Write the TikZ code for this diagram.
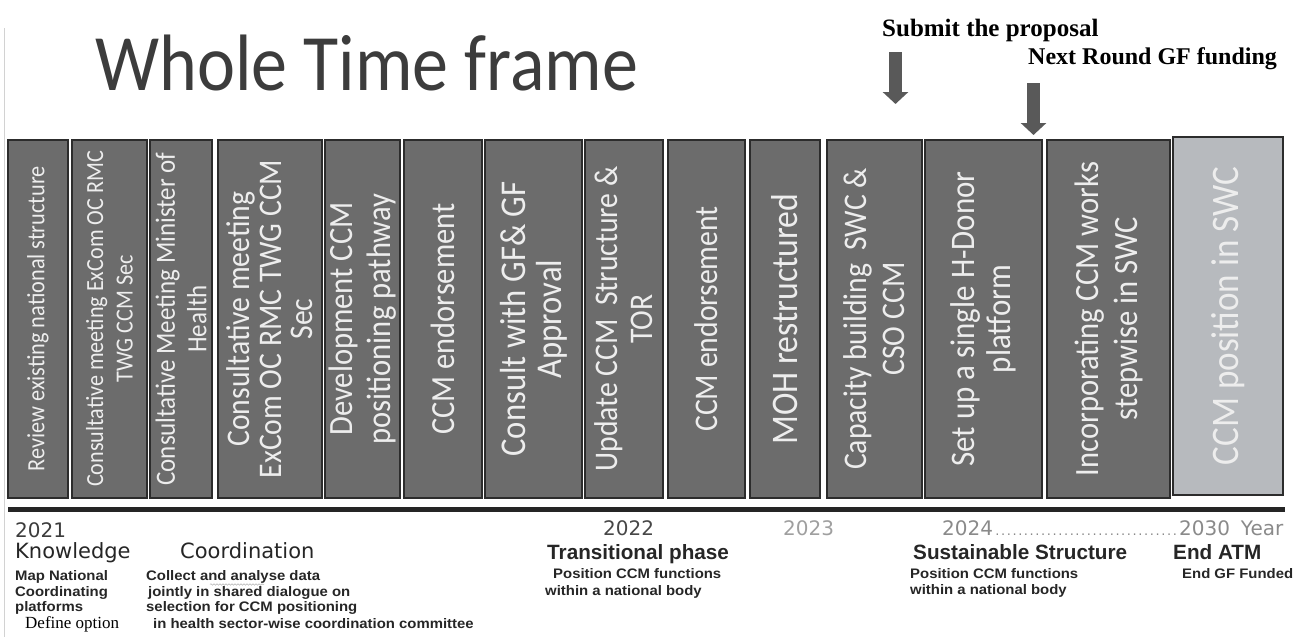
\documentclass[tikz,border=0pt]{standalone}
\usepackage{fontspec}
\setmainfont{Carlito}
\newfontfamily\stagefont{Carlito}[FakeStretch=0.9]
\newfontfamily\yearfont{DejaVu Sans}
\newfontfamily\notefont{Liberation Sans}[FakeStretch=1.08]
\newfontfamily\headfont{Liberation Sans}
\newfontfamily\oldserif{Liberation Serif}
\usetikzlibrary{arrows.meta}
\usetikzlibrary{decorations.pathmorphing}
\definecolor{stagegray}{HTML}{6C6C6C}
\definecolor{lastgray}{HTML}{B7BABE}
\definecolor{edgegray}{HTML}{2C2C2C}
\definecolor{inkgray}{HTML}{262626}
\definecolor{arrowgray}{HTML}{595959}
\definecolor{yeargray}{HTML}{8A8A8A}
\tikzset{stage/.style 2 args = {draw=edgegray, line width=1.2pt, fill=stagegray,
                                rotate=90, minimum width=358pt, inner sep=0pt,
                                align=center, text=white!93!black,
                                font=\stagefont\fontsize{#1}{#2}\selectfont}}
\tikzset{note/.style = {anchor=base west, inner sep=0, text=inkgray,
                        font=\notefont\bfseries\fontsize{13.8}{14}\selectfont}}
\tikzset{phase/.style = {anchor=base west, inner sep=0, text=inkgray,
                         font=\headfont\bfseries\fontsize{20.7}{22}\selectfont}}
\tikzset{year/.style = {anchor=base west, inner sep=0,
                        font=\yearfont\fontsize{20}{22}\selectfont}}
\tikzset{blockarrow/.style = {draw=arrowgray, line width=13pt,
                              -{Triangle[width=25pt,length=12pt]}}}

\begin{document}
\begin{tikzpicture}[x=1pt,y=-1pt]
  \useasboundingbox (0,0) rectangle (1293,637);
  \draw [gray!35, line width=0.8pt] (4,28) -- (4,637);

  \node [anchor=base west, inner sep=0, text=inkgray!90,
         font=\stagefont\fontsize{80}{88}\selectfont] (title) at (95,90) {Whole Time frame};

  % milestones on top
  \node [anchor=base west, inner sep=0, font=\oldserif\bfseries\fontsize{25}{27}\selectfont]
        (submit) at (882,36) {Submit the proposal};
  \node [anchor=base west, inner sep=0, font=\oldserif\bfseries\fontsize{24}{26}\selectfont]
        (round) at (1028,64) {Next Round GF funding};
  \coordinate (subtail) at (895.5,52);
  \coordinate (subtip) at (895.5,104);
  \coordinate (roundtail) at (1033.5,83);
  \coordinate (roundtip) at (1033.5,135);
  \draw [blockarrow] (subtail) -- (subtip);
  \draw [blockarrow] (roundtail) -- (roundtip);

  % the steps
  \node [stage={24.8}{29}, minimum height=60pt] (b1) at (38,319)
        {Review existing national structure};
  \node [stage={24.6}{29.5}, minimum height=75pt] (b2) at (109.5,319)
        {Consultative meeting ExCom OC RMC\\TWG CCM Sec};
  \node [stage={27.8}{31.5}, minimum height=62pt] (b3) at (181,319)
        {Consultative Meeting Minister of\\Health};
  \node [stage={33}{31.5}, minimum height=104pt] (b4) at (270,319)
        {Consultative meeting\\ExCom OC RMC TWG CCM\\Sec};
  \node [stage={34}{38}, minimum height=75pt] (b5) at (362.5,319)
        {Development CCM\\positioning pathway};
  \node [stage={33.8}{36}, minimum height=78pt] (b6) at (443,319)
        {CCM endorsement};
  \node [stage={36.3}{36}, minimum height=97pt] (b7) at (533.5,319)
        {Consult with GF\& GF\\Approval};
  \node [stage={33}{35}, minimum height=78pt] (b8) at (624,319)
        {Update CCM\ \ Structure \&\\TOR};
  \node [stage={33}{36}, minimum height=77pt] (b9) at (706.5,319)
        {CCM endorsement};
  \node [stage={37.5}{36}, minimum height=70pt] (b10) at (785,319)
        {MOH restructured};
  \node [stage={33}{38}, minimum height=95pt] (b11) at (874.5,319)
        {Capacity building\ \ SWC \&\\CSO CCM};
  \node [stage={34.4}{36}, minimum height=117pt] (b12) at (983.5,319)
        {Set up a single H-Donor\\platform};
  \node [stage={34}{39}, minimum height=123pt] (b13) at (1108.5,319)
        {Incorporating CCM works\\stepwise in SWC};
  \node [stage={39}{40}, minimum height=110pt, fill=lastgray] (b14) at (1228,316)
        {CCM position in SWC};

  % time line
  \draw [line width=5pt, edgegray!85!black] (8,509) -- (1285,509);

  \node [year, text=inkgray!90] (y2021) at (15,537) {2021};
  \node [year, text=inkgray!85] (y2022) at (603,535) {2022};
  \node [year, text=gray!75] (y2023) at (783,535) {2023};
  \node [year, text=yeargray] (y2024) at (942,535)
        {2024{\fontsize{13}{13}\selectfont\makebox[186pt]{\dotfill}}2030\hspace{11pt}Year};

  \node [anchor=base west, inner sep=0, text=inkgray, font=\yearfont\fontsize{21}{23}\selectfont]
        (know) at (15,558) {Knowledge};
  \node [anchor=base west, inner sep=0, text=inkgray, font=\yearfont\fontsize{21}{23}\selectfont]
        (coord) at (180,558) {Coordination};
  \node [phase] (trans) at (547,559) {Transitional phase};
  \node [phase] (sustain) at (913,559) {Sustainable Structure};
  \node [phase] (endatm) at (1173,559) {End ATM};

  \node [note] (map) at (15,580) {Map National};
  \node [note] (coordplat) at (15,596) {Coordinating};
  \node [note] (platf) at (15,611) {platforms};
  \node [anchor=base west, inner sep=0, font=\oldserif\fontsize{17}{19}\selectfont]
        (define) at (25,628) {Define option};
  \node [note] (collect) at (146,580) {Collect and analyse data};
  \draw [gray!60, line width=0.5pt, decorate,
         decoration={snake, amplitude=0.8pt, segment length=3pt}] (210,584.5) -- (264,584.5);
  \node [note] (jointly) at (148,596) {jointly in shared dialogue on};
  \node [note] (select) at (146,611) {selection for CCM positioning};
  \node [note] (health) at (153,628) {in health sector-wise coordination committee};

  \node [note] (posa) at (553,578) {Position CCM functions};
  \node [note] (bodya) at (545,595) {within a national body};
  \node [note] (posb) at (910,578) {Position CCM functions};
  \node [note] (bodyb) at (910,594) {within a national body};
  \node [note] (gfend) at (1182,578) {End GF Funded};
\end{tikzpicture}
\end{document}
